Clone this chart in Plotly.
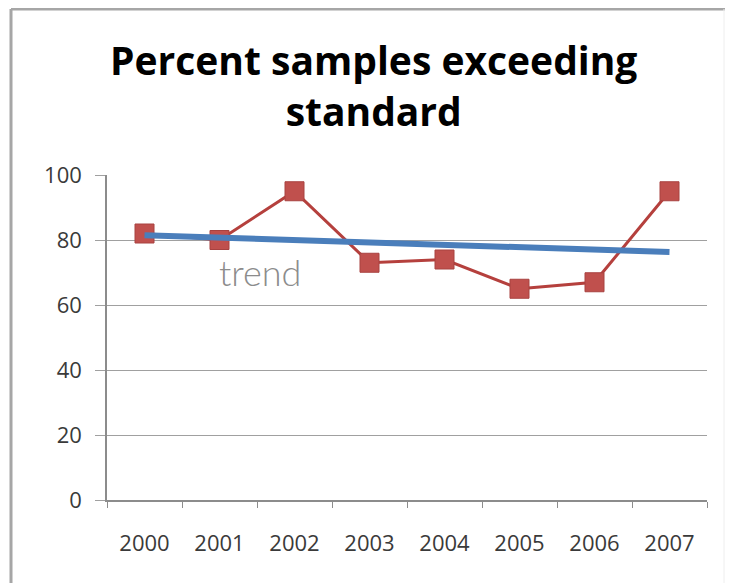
import plotly.graph_objects as go

years = ["2000", "2001", "2002", "2003", "2004", "2005", "2006", "2007"]
percent_exceeding = [82, 80, 95, 73, 74, 65, 67, 95]
trend_years = ["2000", "2007"]
trend_values = [81.5, 76.3]
y_ticks = [0, 20, 40, 60, 80, 100]

# page body has an 8px margin; figure drawn at (8, 8)
OFF = 8
W, H = 733 - OFF, 583 - OFF
L, R, T, B = 107 - OFF, 26, 175 - OFF, 83
PW, PH = W - L - R, H - T - B

def px_x(px):  # page pixel -> paper x
    return (px - OFF - L) / PW

def px_y(py):  # page pixel -> paper y
    return (H - B - (py - OFF)) / PH

fig = go.Figure()
fig.add_trace(go.Scatter(
    x=years, y=percent_exceeding, mode="lines+markers",
    line=dict(color="#B5403D", width=3),
    marker=dict(symbol="square", size=19, color="#C0504D",
                line=dict(color="#A84240", width=1)),
    showlegend=False, hoverinfo="skip"))
fig.add_trace(go.Scatter(
    x=trend_years, y=trend_values, mode="lines",
    line=dict(color="#4A7EBB", width=6),
    showlegend=False, hoverinfo="skip"))

fig.add_annotation(text="trend", x=1.54, y=70.2, xref="x", yref="y",
                   showarrow=False,
                   font=dict(family="Lato", size=36, color="#8C8C8C", weight=300))

fig.add_annotation(text="Percent samples exceeding<br>standard",
                   x=px_x(373), y=px_y(85), xref="paper", yref="paper",
                   xanchor="center", yanchor="middle", showarrow=False,
                   font=dict(family="Open Sans", size=39, color="#000000", weight="bold"))

border = dict(color="#A6A6A6", width=3)
fig.add_shape(type="line", xref="paper", yref="paper",
              x0=px_x(11), x1=px_x(11), y0=px_y(9), y1=px_y(583), line=border)
fig.add_shape(type="line", xref="paper", yref="paper",
              x0=px_x(11), x1=px_x(733), y0=px_y(9), y1=px_y(9), line=border)
fig.add_shape(type="line", xref="paper", yref="paper",
              x0=px_x(724), x1=px_x(724), y0=px_y(9), y1=px_y(583),
              line=dict(color="#EEEEEE", width=1))

tickfont = dict(family="Open Sans", size=22, color="#3A3A3A")
fig.update_layout(
    width=W, height=H,
    margin=dict(l=L, r=R, t=T, b=B),
    paper_bgcolor="white", plot_bgcolor="white",
    xaxis=dict(type="category", range=[-0.5, 7.5],
               showgrid=False, showline=True, linecolor="#8C8C8C", linewidth=1.5,
               ticks="outside", tickson="boundaries", ticklen=6, tickcolor="#8C8C8C",
               ticklabelstandoff=23, tickfont=tickfont),
    yaxis=dict(range=[0, 100], tickvals=y_ticks,
               showgrid=True, gridcolor="#A0A0A0", gridwidth=1.2,
               showline=True, linecolor="#8C8C8C", linewidth=1.5,
               ticks="outside", ticklen=10, tickcolor="#A0A0A0",
               ticklabelstandoff=9, zeroline=False, tickfont=tickfont),
)

fig.write_html("out.html")
